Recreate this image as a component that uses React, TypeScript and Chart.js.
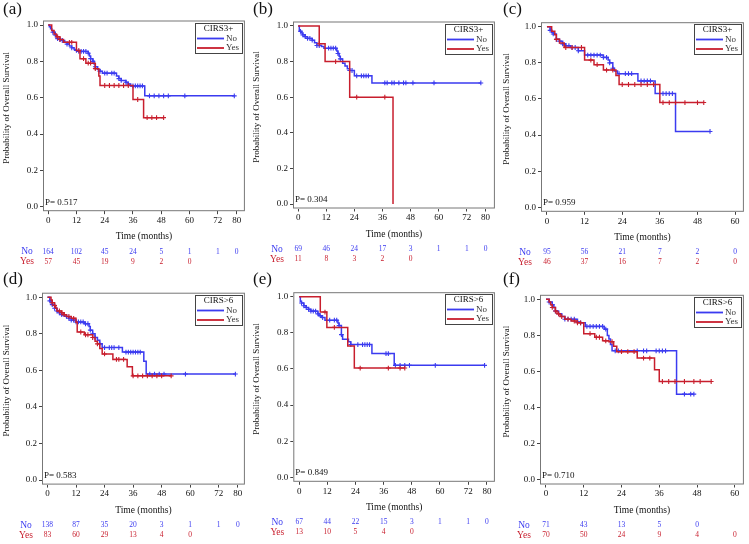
import React, { useEffect, useRef } from 'react';
import { Chart, registerables } from 'chart.js';
Chart.register(...registerables);

const FONT = "'Liberation Serif', 'Times New Roman', serif";
const BLUE = '#3b3bf0';
const RED = '#c81e2d';

// ---------- tick / category data ----------
const ticks80 = [0, 12, 24, 36, 48, 60, 72, 80];
const ticks60 = [0, 12, 24, 36, 48, 60];
const yTicks = [0, 0.2, 0.4, 0.6, 0.8, 1.0];
const groups = ['No', 'Yes'];

// ---------- panel (a) CIRS3+ ----------
const aNoT = [0, 0.5, 1, 1.5, 2, 3, 3.5, 4, 5, 6, 7, 8, 9, 10, 11, 12, 13, 17, 17.5, 18, 19, 19.5, 20, 21, 22, 23, 29, 30, 31, 33, 34, 35, 41, 79];
const aNoS = [1, 0.99, 0.98, 0.97, 0.96, 0.945, 0.935, 0.925, 0.92, 0.915, 0.905, 0.895, 0.885, 0.875, 0.865, 0.86, 0.855, 0.845, 0.83, 0.815, 0.8, 0.785, 0.77, 0.755, 0.745, 0.735, 0.72, 0.705, 0.695, 0.685, 0.675, 0.665, 0.61, 0.61];
const aNoCens = [2, 3, 4, 5, 6, 8, 10, 12, 13, 14, 15, 16, 17, 18, 19, 20, 22, 24, 25, 27, 28, 30, 31, 33, 34, 36, 37, 38, 39, 40, 43, 45, 47, 49, 51, 58, 79];
const aYesT = [0, 1.5, 2.5, 3.5, 5, 6.5, 12, 13.5, 16, 20, 21.5, 22, 36, 40.5, 49];
const aYesS = [1, 0.97, 0.95, 0.935, 0.92, 0.905, 0.86, 0.815, 0.79, 0.76, 0.72, 0.667, 0.59, 0.49, 0.49];
const aYesCens = [4, 5, 9, 10, 13, 15, 17, 18, 20, 24, 26, 28, 30, 32, 34, 38, 42, 44, 46, 49];
const aRiskNo = [164, 102, 45, 24, 5, 1, 1, 0];
const aRiskYes = [57, 45, 19, 9, 2, 0];

// ---------- panel (b) CIRS3+ ----------
const bNoT = [0, 0.5, 1.5, 2, 3, 4, 6, 7, 8, 10, 11, 16.5, 17, 17.5, 18, 19, 20, 21, 22, 24, 31.5, 78];
const bNoS = [1, 0.97, 0.96, 0.95, 0.94, 0.93, 0.92, 0.905, 0.89, 0.885, 0.875, 0.86, 0.845, 0.83, 0.815, 0.79, 0.775, 0.76, 0.75, 0.72, 0.68, 0.68];
const bNoCens = [1, 2, 3, 4, 5, 6, 8, 9, 13, 14, 15, 16, 17, 18, 22, 23, 25, 27, 28, 29, 30, 37, 38, 40, 41, 43, 45, 46, 49, 58, 78];
const bYesT = [0, 9, 11.5, 22, 40.5];
const bYesS = [1, 0.9, 0.8, 0.6, 0];
const bYesCens = [9, 16, 25, 37];
const bRiskNo = [69, 46, 24, 17, 3, 1, 1, 0];
const bRiskYes = [11, 8, 3, 2, 0];

// ---------- panel (c) CIRS3+ ----------
const cNoT = [0, 1, 1.5, 2, 3, 4, 5, 6, 7.5, 10, 12, 18, 19.5, 20, 21, 21.5, 22.5, 29, 34.5, 41, 52];
const cNoS = [1, 0.98, 0.97, 0.96, 0.93, 0.92, 0.905, 0.895, 0.885, 0.867, 0.843, 0.83, 0.815, 0.8, 0.77, 0.755, 0.74, 0.7, 0.63, 0.42, 0.42];
const cNoCens = [1, 2, 3, 4, 5, 6, 7, 8, 9, 10, 13, 14, 15, 16, 17, 18, 19, 20, 21, 23, 25, 26, 27, 30, 31, 32, 33, 37, 38, 39, 40, 52];
const cYesT = [0, 1.5, 2.5, 3, 4, 5.5, 12, 15, 18, 22, 23, 36, 50];
const cYesS = [1, 0.975, 0.955, 0.93, 0.91, 0.885, 0.815, 0.79, 0.76, 0.73, 0.68, 0.58, 0.58];
const cYesCens = [3, 6, 8, 11, 14, 16, 19, 21, 24, 26, 28, 30, 32, 34, 37, 39, 41, 44, 48, 50];
const cRiskNo = [95, 56, 21, 7, 2, 0];
const cRiskYes = [46, 37, 16, 7, 2, 0];

// ---------- panel (d) CIRS>6 ----------
const dNoT = [0, 1, 1.5, 2, 3, 4, 5, 6, 8, 9, 10, 12, 15.5, 17.5, 18, 19, 20, 21, 22, 23, 31.5, 40.5, 41.5, 79];
const dNoS = [1, 0.98, 0.97, 0.96, 0.94, 0.925, 0.915, 0.905, 0.895, 0.885, 0.875, 0.865, 0.855, 0.84, 0.82, 0.8, 0.78, 0.765, 0.745, 0.725, 0.7, 0.65, 0.58, 0.58];
const dNoCens = [1, 2, 3, 4, 5, 6, 7, 8, 9, 10, 11, 12, 13, 14, 15, 16, 17, 18, 19, 20, 22, 24, 26, 27, 28, 30, 33, 34, 35, 36, 37, 38, 39, 43, 45, 47, 49, 58, 79];
const dYesT = [0, 1.5, 2, 3, 3.5, 4, 6, 7, 8, 10, 12, 12.5, 15.5, 19, 20, 21, 22, 23, 27.5, 33.5, 35.7, 52];
const dYesS = [1, 0.985, 0.97, 0.955, 0.94, 0.925, 0.915, 0.905, 0.895, 0.885, 0.863, 0.81, 0.795, 0.78, 0.76, 0.745, 0.72, 0.69, 0.66, 0.62, 0.57, 0.57];
const dYesCens = [2, 3, 5, 6, 7, 9, 11, 14, 16, 17, 19, 21, 24, 29, 30, 32, 36, 38, 40, 42, 44, 46, 48, 52];
const dRiskNo = [138, 87, 35, 20, 3, 1, 1, 0];
const dRiskYes = [83, 60, 29, 13, 4, 0];

// ---------- panel (e) CIRS>6 ----------
const eNoT = [0, 0.5, 1, 2, 3, 4, 5, 8, 8.5, 9.5, 11, 16.5, 17, 18, 18.5, 21, 22, 31, 40.5, 79];
const eNoS = [1, 0.975, 0.965, 0.95, 0.94, 0.93, 0.92, 0.905, 0.895, 0.885, 0.87, 0.855, 0.84, 0.79, 0.765, 0.75, 0.735, 0.685, 0.62, 0.62];
const eNoCens = [1, 2, 3, 4, 5, 6, 7, 8, 9, 10, 13, 15, 16, 17, 18, 22, 25, 27, 28, 29, 30, 37, 38, 41, 43, 45, 47, 58, 79];
const eYesT = [0, 9, 11.8, 20.7, 23.5, 45];
const eYesS = [1, 0.915, 0.83, 0.727, 0.605, 0.605];
const eYesCens = [11, 15, 26, 38, 43, 45];
const eRiskNo = [67, 44, 22, 15, 3, 1, 1, 0];
const eRiskYes = [13, 10, 5, 4, 0];

// ---------- panel (f) CIRS>6 ----------
const fNoT = [0, 1, 2, 2.5, 3, 4, 5, 6, 10, 11, 12.5, 18.5, 19.5, 20, 20.5, 21, 41.5, 47];
const fNoS = [1, 0.985, 0.97, 0.955, 0.935, 0.92, 0.905, 0.89, 0.875, 0.87, 0.85, 0.835, 0.8, 0.78, 0.75, 0.715, 0.475, 0.475];
const fNoCens = [1, 2, 3, 4, 6, 7, 8, 9, 10, 11, 13, 14, 15, 16, 17, 18, 19, 22, 23, 29, 31, 32, 35, 36, 37, 38, 44, 46, 47];
const fYesT = [0, 1, 1.5, 2, 3, 3.5, 4.5, 6, 8, 10, 12, 15.5, 18, 20, 21.5, 22.5, 29, 34.5, 36, 52.5];
const fYesS = [1, 0.985, 0.97, 0.955, 0.935, 0.92, 0.905, 0.89, 0.88, 0.87, 0.81, 0.79, 0.77, 0.765, 0.74, 0.71, 0.675, 0.61, 0.545, 0.545];
const fYesCens = [2, 3, 4, 5, 7, 9, 10, 11, 14, 16, 17, 19, 21, 24, 26, 28, 31, 33, 37, 39, 41, 44, 47, 49, 52.5];
const fRiskNo = [71, 43, 13, 5, 0];
const fRiskYes = [70, 50, 24, 9, 4, 0];

const pValues = ['0.517', '0.304', '0.959', '0.583', '0.849', '0.710'];
const legendTitles = ['CIRS3+', 'CIRS3+', 'CIRS3+', 'CIRS>6', 'CIRS>6', 'CIRS>6'];
const panelLabels = ['(a)', '(b)', '(c)', '(d)', '(e)', '(f)'];

function stepAt(T: number[], S: number[], t: number) {
  let v = S[0];
  for (let i = 0; i < T.length; i++) if (T[i] <= t) v = S[i];
  return v;
}

interface Layout { x: number; y: number; w: number; h: number; L: number; T: number; R: number; B: number; xMin: number; xMax: number; }

const layouts: Layout[] = [
  { x: 0, y: 0, w: 250, h: 270, L: 43, T: 20.5, R: 247, B: 211.2, xMin: -2.2, xMax: 83.5 },
  { x: 250, y: 0, w: 250, h: 270, L: 293, T: 21.5, R: 497, B: 208.5, xMin: -2.2, xMax: 84 },
  { x: 500, y: 0, w: 249, h: 270, L: 541, T: 22.2, R: 746.7, B: 211.8, xMin: -1.9, xMax: 62.8 },
  { x: 0, y: 270, w: 250, h: 274, L: 42, T: 292.7, R: 247.3, B: 484.6, xMin: -2.3, xMax: 83 },
  { x: 250, y: 270, w: 250, h: 274, L: 293.3, T: 292.2, R: 497.3, B: 481.8, xMin: -2.5, xMax: 83.4 },
  { x: 500, y: 270, w: 249, h: 274, L: 540, T: 294.8, R: 746.7, B: 484.5, xMin: -1.9, xMax: 62.9 },
];

interface PanelData {
  noT: number[]; noS: number[]; noC: number[];
  yesT: number[]; yesS: number[]; yesC: number[];
  riskNo: number[]; riskYes: number[]; xTicks: number[];
}

const panelData: PanelData[] = [
  { noT: aNoT, noS: aNoS, noC: aNoCens, yesT: aYesT, yesS: aYesS, yesC: aYesCens, riskNo: aRiskNo, riskYes: aRiskYes, xTicks: ticks80 },
  { noT: bNoT, noS: bNoS, noC: bNoCens, yesT: bYesT, yesS: bYesS, yesC: bYesCens, riskNo: bRiskNo, riskYes: bRiskYes, xTicks: ticks80 },
  { noT: cNoT, noS: cNoS, noC: cNoCens, yesT: cYesT, yesS: cYesS, yesC: cYesCens, riskNo: cRiskNo, riskYes: cRiskYes, xTicks: ticks60 },
  { noT: dNoT, noS: dNoS, noC: dNoCens, yesT: dYesT, yesS: dYesS, yesC: dYesCens, riskNo: dRiskNo, riskYes: dRiskYes, xTicks: ticks80 },
  { noT: eNoT, noS: eNoS, noC: eNoCens, yesT: eYesT, yesS: eYesS, yesC: eYesCens, riskNo: eRiskNo, riskYes: eRiskYes, xTicks: ticks80 },
  { noT: fNoT, noS: fNoS, noC: fNoCens, yesT: fYesT, yesS: fYesS, yesC: fYesCens, riskNo: fRiskNo, riskYes: fRiskYes, xTicks: ticks60 },
];

function makePlugin(idx: number) {
  const d = panelData[idx];
  return {
    id: 'km' + idx,
    afterDraw(chart: any) {
      const ctx = chart.ctx as CanvasRenderingContext2D;
      const a = chart.chartArea;
      const xs = chart.scales.x;
      ctx.save();
      // frame
      ctx.strokeStyle = '#777';
      ctx.lineWidth = 1;
      ctx.strokeRect(a.left + 0.5, a.top + 0.5, a.right - a.left - 1, a.bottom - a.top - 1);

      // legend box
      const bw = 47, bh = 30;
      const bx = Math.round(a.right - 3 - bw), by = Math.round(a.top + 2);
      ctx.fillStyle = '#fff';
      ctx.fillRect(bx, by, bw, bh);
      ctx.strokeStyle = '#444';
      ctx.strokeRect(bx + 0.5, by + 0.5, bw, bh);
      ctx.fillStyle = '#111';
      ctx.font = `9px ${FONT}`;
      ctx.textAlign = 'center';
      ctx.textBaseline = 'middle';
      ctx.fillText(legendTitles[idx], bx + bw / 2, by + 6);
      const rows: [string, string, number][] = [[groups[0], BLUE, by + 15.5], [groups[1], RED, by + 25]];
      rows.forEach(([name, col, yy]) => {
        ctx.strokeStyle = col;
        ctx.lineWidth = 1.8;
        ctx.beginPath();
        ctx.moveTo(bx + 2, yy);
        ctx.lineTo(bx + 29, yy);
        ctx.stroke();
        ctx.fillStyle = '#333';
        ctx.textAlign = 'left';
        ctx.fillText(name, bx + 31, yy);
      });

      // p-value
      ctx.fillStyle = '#111';
      ctx.font = `9px ${FONT}`;
      ctx.textAlign = 'left';
      ctx.textBaseline = 'middle';
      ctx.fillText('P= ' + pValues[idx], a.left + 2, a.bottom - 9);

      // x title
      ctx.font = `9.5px ${FONT}`;
      ctx.textAlign = 'center';
      ctx.fillText('Time (months)', (a.left + a.right) / 2, a.bottom + 25.5);

      // y title
      ctx.save();
      ctx.translate(7, (a.top + a.bottom) / 2 - 8);
      ctx.rotate(-Math.PI / 2);
      ctx.textAlign = 'center';
      ctx.textBaseline = 'middle';
      ctx.font = `9px ${FONT}`;
      ctx.fillText('Probability of Overall Survival', 0, 0);
      ctx.restore();

      // risk table
      const rNo = a.bottom + 40.5, rYes = a.bottom + 50.5;
      ctx.textAlign = 'center';
      ctx.font = `9.5px ${FONT}`;
      ctx.fillStyle = BLUE;
      ctx.fillText(groups[0], a.left - 16, rNo);
      ctx.fillStyle = RED;
      ctx.fillText(groups[1], a.left - 16, rYes);
      ctx.font = `7.5px ${FONT}`;
      d.riskNo.forEach((n, i) => {
        ctx.fillStyle = BLUE;
        ctx.fillText(String(n), xs.getPixelForValue(d.xTicks[i]), rNo);
      });
      d.riskYes.forEach((n, i) => {
        ctx.fillStyle = RED;
        ctx.fillText(String(n), xs.getPixelForValue(d.xTicks[i]), rYes);
      });

      // panel label
      ctx.fillStyle = '#111';
      ctx.font = `17px ${FONT}`;
      ctx.textAlign = 'left';
      ctx.textBaseline = 'top';
      ctx.fillText(panelLabels[idx], 3, 1);
      ctx.restore();
    },
  };
}

function Panel({ idx }: { idx: number }) {
  const ref = useRef<HTMLCanvasElement>(null);
  const lay = layouts[idx];
  useEffect(() => {
    const d = panelData[idx];
    const curve = (T: number[], S: number[], col: string) => ({
      data: T.map((t, i) => ({ x: t, y: S[i] })),
      borderColor: col,
      backgroundColor: col,
      borderWidth: 1.5,
      pointRadius: 0,
      stepped: 'before' as const,
      fill: false,
      tension: 0,
    });
    const cens = (C: number[], T: number[], S: number[], col: string) => ({
      data: C.map((t) => ({ x: t, y: stepAt(T, S, t) })),
      borderColor: col,
      backgroundColor: col,
      showLine: false,
      pointStyle: 'cross' as const,
      pointRadius: 2.4,
      pointBorderWidth: 1.1,
      borderWidth: 1.1,
    });
    const tickFont = { family: FONT, size: 9 };
    const chart = new Chart(ref.current as HTMLCanvasElement, {
      type: 'line',
      data: {
        datasets: [
          curve(d.yesT, d.yesS, RED),
          cens(d.yesC, d.yesT, d.yesS, RED),
          curve(d.noT, d.noS, BLUE),
          cens(d.noC, d.noT, d.noS, BLUE),
        ] as any,
      },
      options: {
        animation: false,
        responsive: false,
        maintainAspectRatio: false,
        events: [],
        layout: { padding: { top: lay.T - lay.y, right: lay.x + lay.w - lay.R, left: 0, bottom: 0 } },
        plugins: { legend: { display: false }, tooltip: { enabled: false } },
        scales: {
          x: {
            type: 'linear',
            min: lay.xMin,
            max: lay.xMax,
            afterBuildTicks: (s: any) => { s.ticks = d.xTicks.map((v) => ({ value: v })); },
            afterFit: (s: any) => { s.height = lay.y + lay.h - lay.B; },
            grid: { display: true, drawOnChartArea: false, drawTicks: true, tickLength: 3, color: '#444' },
            border: { display: false },
            ticks: { font: tickFont, color: '#111', padding: 1, maxRotation: 0, autoSkip: false },
          },
          y: {
            type: 'linear',
            min: -0.025,
            max: 1.025,
            afterBuildTicks: (s: any) => { s.ticks = yTicks.map((v) => ({ value: v })); },
            afterFit: (s: any) => { s.width = lay.L - lay.x; },
            grid: { display: true, drawOnChartArea: false, drawTicks: true, tickLength: 3, color: '#444' },
            border: { display: false },
            ticks: { font: tickFont, color: '#111', padding: 2, callback: (v: any) => Number(v).toFixed(1) },
          },
        },
      } as any,
      plugins: [makePlugin(idx)],
    });
    return () => chart.destroy();
  }, [idx]);
  return (
    <canvas
      ref={ref}
      width={lay.w}
      height={lay.h}
      style={{ position: 'absolute', left: lay.x, top: lay.y, width: lay.w, height: lay.h }}
    />
  );
}

export default function App() {
  return (
    <div style={{ position: 'absolute', left: 0, top: 0, width: 749, height: 544, background: '#fff', overflow: 'hidden' }}>
      {layouts.map((_, i) => (
        <Panel key={i} idx={i} />
      ))}
    </div>
  );
}
